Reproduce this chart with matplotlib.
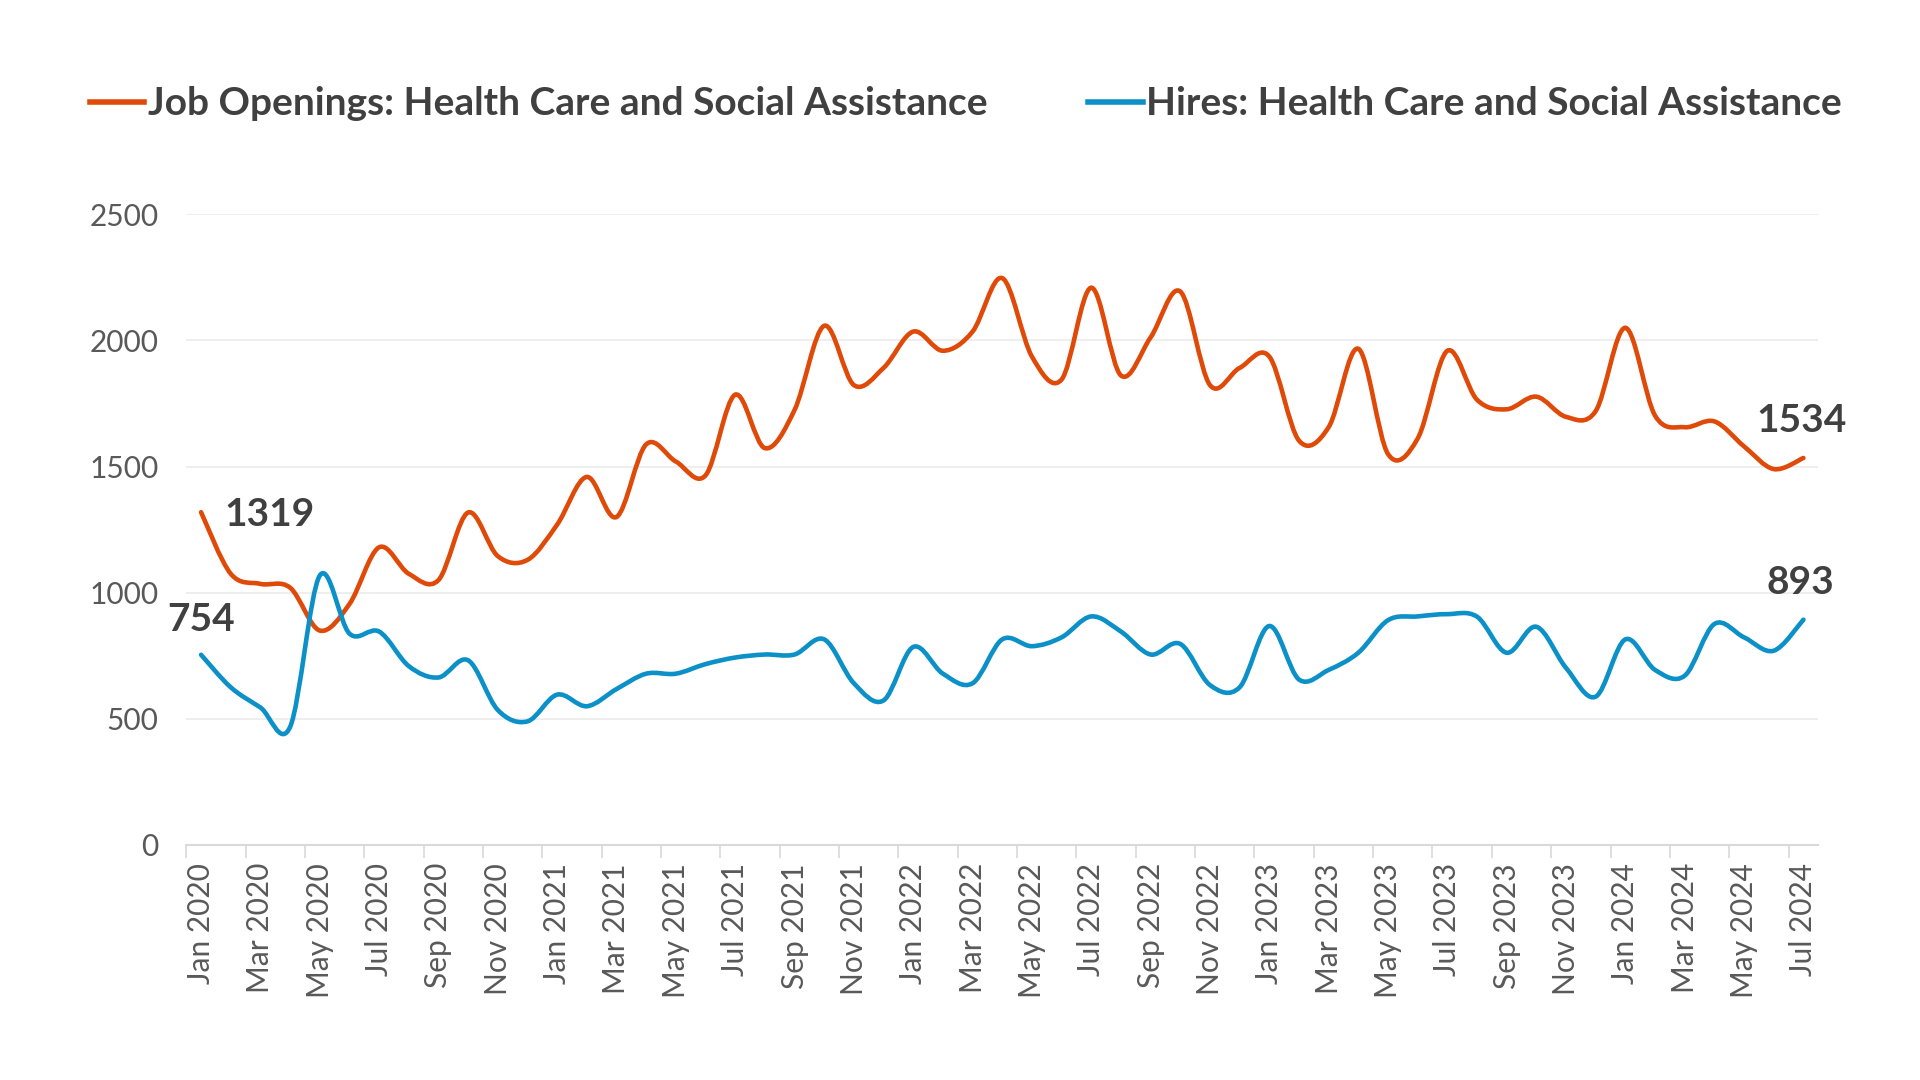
import numpy as np
import pandas as pd
import matplotlib
matplotlib.use("Agg")
import matplotlib.pyplot as plt
from matplotlib.path import Path
from matplotlib.patches import PathPatch
from matplotlib.lines import Line2D

plt.rcParams["font.family"] = ["Lato", "DejaVu Sans"]

# monthly categories, Jan 2020 .. Jul 2024
months = pd.date_range("2020-01-01", "2024-07-01", freq="MS")
month_labels = [d.strftime("%b %Y") for d in months]

# thousands
job_openings = [
    1319, 1075, 1035, 1020, 850, 955, 1180, 1075, 1050, 1318, 1145, 1130,
    1270, 1459, 1300, 1588, 1520, 1465, 1785, 1573, 1724, 2058, 1823, 1891,
    2035, 1959, 2035, 2247, 1936, 1845, 2209, 1861, 2012, 2194, 1823, 1891,
    1936, 1603, 1656, 1967, 1550, 1611, 1959, 1765, 1727, 1777, 1697, 1720,
    2050, 1702, 1656, 1679, 1580, 1490, 1534,
]
hires = [
    754, 625, 545, 468, 1068, 838, 846, 709, 664, 732, 535, 490,
    596, 550, 618, 679, 679, 717, 743, 755, 755, 815, 641, 573,
    785, 679, 641, 815, 788, 823, 906, 846, 755, 797, 634, 625,
    868, 656, 694, 762, 891, 906, 915, 905, 762, 865, 702, 588,
    815, 694, 671, 876, 823, 770, 893,
]

series_names = ["Job Openings: Health Care and Social Assistance",
                "Hires: Health Care and Social Assistance"]
series_colors = ["#DF4A09", "#0B90C8"]

TEXT = "#404040"
TICK = "#595959"


def smooth_path(x, y):
    """Excel-style smoothed line: cubic bezier segments through every point"""
    pts = np.column_stack([x, y]).astype(float)
    n = len(pts)
    verts = [pts[0]]
    codes = [Path.MOVETO]
    for i in range(n - 1):
        p0 = pts[i - 1] if i > 0 else pts[i]
        p1 = pts[i]
        p2 = pts[i + 1]
        p3 = pts[i + 2] if i + 2 < n else pts[i + 1]
        c1 = p1 + (p2 - p0) / 6.0
        c2 = p2 - (p3 - p1) / 6.0
        verts += [c1, c2, p2]
        codes += [Path.CURVE4] * 3
    return Path(verts, codes)


fig = plt.figure(figsize=(19.2, 10.8), dpi=100)
ax = fig.add_axes([0.097, 0.2176, 0.850, 0.584])

x = np.arange(len(months))
for values, color in zip([job_openings, hires], series_colors):
    patch = PathPatch(smooth_path(x, values), facecolor="none", edgecolor=color,
                      linewidth=3.3, capstyle="round", joinstyle="round", zorder=3)
    ax.add_patch(patch)

ax.set_xlim(-0.5, len(months) - 0.5)
ax.set_ylim(0, 2500)

# y axis
ax.set_yticks(np.arange(0, 2501, 500))
ax.grid(axis="y", color="#EBEBEB", linewidth=1.2, zorder=0)
ax.tick_params(axis="y", length=0, pad=20, labelsize=21.5, labelcolor=TICK)

# x axis: labels every 2 months, tick marks on category boundaries
ax.set_xticks(x[::2])
ax.set_xticklabels(month_labels[::2], rotation=90)
ax.set_xticks(np.arange(-0.5, len(months), 2), minor=True)
ax.tick_params(axis="x", which="major", length=0, pad=13, labelsize=21.5, labelcolor=TICK)
ax.tick_params(axis="x", which="minor", length=9, width=1.2, color="#D9D9D9")

for side in ["top", "right", "left"]:
    ax.spines[side].set_visible(False)
ax.spines["bottom"].set_color("#D9D9D9")
ax.spines["bottom"].set_linewidth(1.5)

# value labels at the first and last points
label_kw = dict(textcoords="offset pixels", fontsize=28, fontweight="bold",
                color=TEXT, va="center", ha="center")
ax.annotate(f"{job_openings[0]}", (x[0], job_openings[0]), xytext=(68, -2), **label_kw)
ax.annotate(f"{hires[0]}", (x[0], hires[0]), xytext=(0, 35), **label_kw)
ax.annotate(f"{job_openings[-1]}", (x[-1], job_openings[-1]), xytext=(-2, 37), **label_kw)
ax.annotate(f"{hires[-1]}", (x[-1], hires[-1]), xytext=(-3, 37), **label_kw)

handles = [Line2D([0], [0], color=c, linewidth=4) for c in series_colors]
fig.legend(handles, series_names, loc="center", bbox_to_anchor=(0.503, 0.904),
           ncol=2, frameon=False, handlelength=1.4, handletextpad=0.08,
           columnspacing=2.6, prop={"size": 28, "weight": "bold"}, labelcolor=TEXT)

fig.savefig("out.png", dpi=100, facecolor="white")
